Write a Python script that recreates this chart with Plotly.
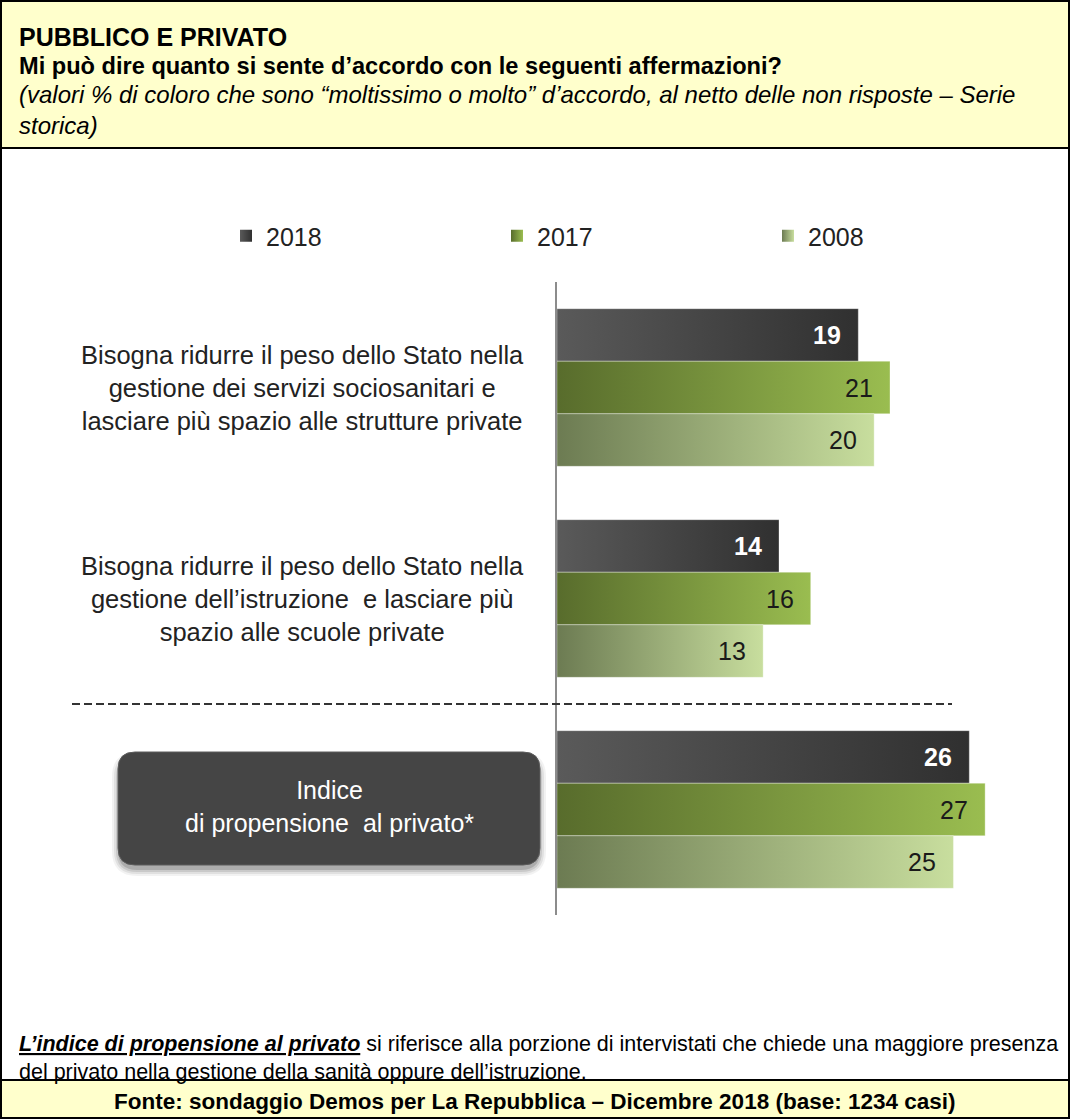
import plotly.graph_objects as go

# --- data -----------------------------------------------------------------
statements = [
    "Bisogna ridurre il peso dello Stato nella<br>gestione dei servizi sociosanitari e<br>lasciare più spazio alle strutture private",
    "Bisogna ridurre il peso dello Stato nella<br>gestione dell’istruzione  e lasciare più<br>spazio alle scuole private",
    "Indice<br>di propensione  al privato*",
]
years = ["2018", "2017", "2008"]
values_2018 = [19, 14, 26]
values_2017 = [21, 16, 27]
values_2008 = [20, 13, 25]

title_main = "PUBBLICO E PRIVATO"
title_question = "Mi può dire quanto si sente d’accordo con le seguenti affermazioni?"
title_note = ("(valori % di coloro che sono “moltissimo o molto” d’accordo, al netto delle non risposte – Serie"
              "<br>storica)")
footnote = ("<b><i><u>L’indice di propensione al privato</u></i></b> si riferisce alla porzione di intervistati "
            "che chiede una maggiore presenza<br>del privato nella gestione della sanità oppure dell’istruzione.")
source = "Fonte: sondaggio Demos per La Repubblica – Dicembre 2018 (base: 1234 casi)"

# --- styling ----------------------------------------------------------------
W, H = 1070, 1119
L, R, T, B = 557, 69, 282, 204
PW, PH = W - L - R, H - T - B
FONT = "Liberation Sans, Arial, Helvetica, sans-serif"
YELLOW = "#FFFFCC"

gradients = {
    "2018": ("#5a5a5a", "#303030"),
    "2017": ("#586c2c", "#9abd50"),
    "2008": ("#6c7b52", "#c8de9e"),
}
label_style = {
    "2018": dict(color="white", bold=True),
    "2017": dict(color="#1a1a1a", bold=False),
    "2008": dict(color="#1a1a1a", bold=False),
}
series = {"2018": values_2018, "2017": values_2017, "2008": values_2008}

BAR_H = 0.249          # bar thickness in category units
OFFSETS = {"2018": -BAR_H, "2017": 0.0, "2008": BAR_H}


def xp(px):
    """pixel column -> paper x"""
    return (px - L) / PW


def yp(py):
    """pixel row -> paper y"""
    return (H - B - py) / PH


fig = go.Figure()
annotations = []

# horizontal gradient bars, one filled polygon per bar
for yr in years:
    c0, c1 = gradients[yr]
    for i, v in enumerate(series[yr]):
        yc = i + OFFSETS[yr]
        y0, y1 = yc - BAR_H / 2, yc + BAR_H / 2
        fig.add_trace(go.Scatter(
            x=[0, v, v, 0, 0], y=[y0, y0, y1, y1, y0],
            mode="lines", line=dict(width=0.6, color="rgba(255,255,255,0.55)"),
            fill="toself",
            fillgradient=dict(type="horizontal", colorscale=[[0, c0], [1, c1]]),
            hoverinfo="skip", showlegend=False,
        ))
        st = label_style[yr]
        txt = f"<b>{v}</b>" if st["bold"] else str(v)
        annotations.append(dict(
            x=v, y=yc, xref="x", yref="y", text=txt, showarrow=False,
            xanchor="right", yanchor="middle", xshift=-15,
            font=dict(family=FONT, size=25, color=st["color"]),
        ))

# legend entries (small gradient squares)
for yr in years:
    c0, c1 = gradients[yr]
    fig.add_trace(go.Scatter(
        x=[None], y=[None], mode="markers", name=yr,
        marker=dict(symbol="square", size=12, color=c0,
                    gradient=dict(type="horizontal", color=c1),
                    line=dict(width=0)),
    ))

# statement labels
for i in range(2):
    annotations.append(dict(
        x=xp(302), y=i, xref="paper", yref="y", text=statements[i],
        showarrow=False, align="center", xanchor="center", yanchor="middle",
        font=dict(family=FONT, size=25.5, color="#222222"),
    ))

# index label inside the rounded box
annotations.append(dict(
    x=xp(329), y=yp(806), xref="paper", yref="paper", text=statements[2],
    showarrow=False, align="center", xanchor="center", yanchor="middle",
    font=dict(family=FONT, size=25, color="white"),
))

# header / footer texts
annotations += [
    dict(x=xp(17), y=yp(37), xref="paper", yref="paper", text=f"<b>{title_main}</b>",
         showarrow=False, xanchor="left", yanchor="middle", align="left",
         font=dict(family=FONT, size=25, color="black")),
    dict(x=xp(17), y=yp(66), xref="paper", yref="paper", text=f"<b>{title_question}</b>",
         showarrow=False, xanchor="left", yanchor="middle", align="left",
         font=dict(family=FONT, size=23.6, color="black")),
    dict(x=xp(17), y=yp(110.5), xref="paper", yref="paper", text=f"<i>{title_note}</i>",
         showarrow=False, xanchor="left", yanchor="middle", align="left",
         font=dict(family=FONT, size=24, color="black")),
    dict(x=xp(17), y=yp(1057.5), xref="paper", yref="paper", text=footnote,
         showarrow=False, xanchor="left", yanchor="middle", align="left",
         font=dict(family=FONT, size=21.5, color="black")),
    dict(x=xp(535), y=yp(1101), xref="paper", yref="paper", text=f"<b>{source}</b>",
         showarrow=False, xanchor="center", yanchor="middle", align="center",
         font=dict(family=FONT, size=22.5, color="black")),
]


def rounded_rect(x0, y0, x1, y1, r):
    """SVG path (paper coords) for a box with corner radius r pixels; y0 is the top edge."""
    rx, ry = r / PW, r / PH
    return (f"M {x0+rx},{y0} L {x1-rx},{y0} Q {x1},{y0} {x1},{y0-ry} "
            f"L {x1},{y1+ry} Q {x1},{y1} {x1-rx},{y1} L {x0+rx},{y1} "
            f"Q {x0},{y1} {x0},{y1+ry} L {x0},{y0-ry} Q {x0},{y0} {x0+rx},{y0} Z")


shapes = [
    # header band
    dict(type="rect", xref="paper", yref="paper", x0=xp(0), x1=xp(W), y0=yp(0), y1=yp(148),
         fillcolor=YELLOW, line=dict(width=0), layer="below"),
    # footer band
    dict(type="rect", xref="paper", yref="paper", x0=xp(0), x1=xp(W), y0=yp(1080), y1=yp(H),
         fillcolor=YELLOW, line=dict(width=0), layer="below"),
    dict(type="line", xref="paper", yref="paper", x0=xp(0), x1=xp(W), y0=yp(148), y1=yp(148),
         line=dict(color="black", width=2)),
    dict(type="line", xref="paper", yref="paper", x0=xp(0), x1=xp(W), y0=yp(1080), y1=yp(1080),
         line=dict(color="black", width=2)),
    # outer frame
    dict(type="rect", xref="paper", yref="paper", x0=xp(1), x1=xp(W - 1), y0=yp(1), y1=yp(H - 1),
         fillcolor="rgba(0,0,0,0)", line=dict(color="black", width=2)),
    # dashed separator between statements and index
    dict(type="line", xref="paper", yref="y", x0=xp(72), x1=xp(952), y0=1.5, y1=1.5,
         line=dict(color="#333333", width=2, dash="8px,4px")),
]

# rounded box with soft shadow
for k, a in [(7, 0.05), (5, 0.07), (3, 0.10), (1, 0.14)]:
    shapes.append(dict(type="path", xref="paper", yref="paper",
                       path=rounded_rect(xp(118 - k + 1), yp(752 - k + 7), xp(540 + k - 1), yp(865 + k + 4), 18 + k),
                       fillcolor=f"rgba(0,0,0,{a})", line=dict(width=0)))
shapes.append(dict(type="path", xref="paper", yref="paper",
                   path=rounded_rect(xp(118), yp(752), xp(540), yp(865), 17),
                   fillcolor="#454545", line=dict(color="#5c5c5c", width=1)))

fig.update_layout(
    width=W, height=H,
    margin=dict(l=L, r=R, t=T, b=B, autoexpand=False),
    paper_bgcolor="white", plot_bgcolor="white",
    font=dict(family=FONT, color="#222222"),
    xaxis=dict(range=[0, 28], visible=False, fixedrange=True),
    yaxis=dict(range=[2.5, -0.5], showticklabels=False, showgrid=False, zeroline=False,
               showline=True, linecolor="#8c8c8c", linewidth=2, ticks="", fixedrange=True),
    showlegend=True,
    legend=dict(orientation="h", x=xp(226), y=yp(236), xanchor="left", yanchor="middle",
                entrywidth=226, entrywidthmode="pixels",
                font=dict(family=FONT, size=25, color="#222222"),
                bgcolor="rgba(0,0,0,0)", itemclick=False, itemdoubleclick=False),
    annotations=annotations,
    shapes=shapes,
)

fig.write_html("out.html")
